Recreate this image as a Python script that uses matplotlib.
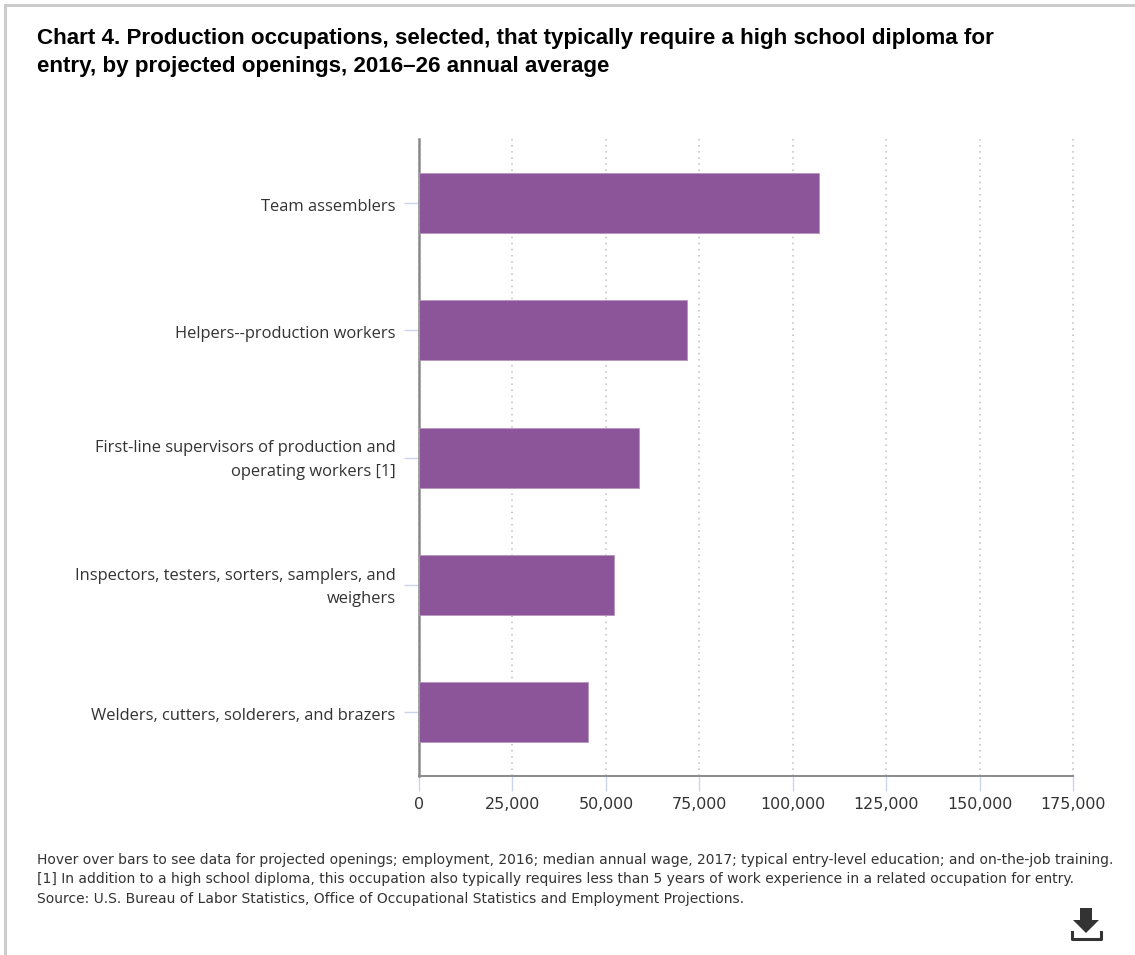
import matplotlib
matplotlib.use('Agg')
import matplotlib.pyplot as plt
from matplotlib.patches import Polygon, Rectangle
from matplotlib.lines import Line2D
from matplotlib.transforms import ScaledTranslation

occupations = ['Team assemblers',
               'Helpers--production workers',
               'First-line supervisors of production and\noperating workers [1]',
               'Inspectors, testers, sorters, samplers, and\nweighers',
               'Welders, cutters, solderers, and brazers']
openings = [107000, 71700, 58900, 52200, 45200]
xticks = [0, 25000, 50000, 75000, 100000, 125000, 150000, 175000]
title = ('Chart 4. Production occupations, selected, that typically require a high school diploma for\n'
         'entry, by projected openings, 2016\u201326 annual average')
footnotes = ['Hover over bars to see data for projected openings; employment, 2016; median annual wage, 2017; typical entry-level education; and on-the-job training.',
             '[1] In addition to a high school diploma, this occupation also typically requires less than 5 years of work experience in a related occupation for entry.',
             'Source: U.S. Bureau of Labor Statistics, Office of Occupational Statistics and Employment Projections.']

W, H = 1135, 955
fig = plt.figure(figsize=(W / 100, H / 100), dpi=100)
ax = fig.add_axes([419 / W, 1 - 776 / H, 654 / W, 636.5 / H])

ypos = [i + 0.5 for i in range(len(occupations))]
ax.barh(ypos, openings, height=0.472, color='#8c5499', edgecolor='#b795bf', linewidth=0.6, zorder=3)
ax.set_xlim(0, 175000)
ax.set_ylim(5, 0)

ax.set_xticks(xticks)
ax.set_xticklabels([f'{v:,}' for v in xticks], fontsize=11.4, family='DejaVu Sans', color='#333333')
ax.set_yticks(ypos)
ax.set_yticklabels(occupations, fontsize=11.9, family='Open Sans', color='#333333', linespacing=1.63)
ax.tick_params(axis='x', length=10.8, width=1, color='#ccd6eb', pad=4)
ax.tick_params(axis='y', length=10.8, width=1, color='#ccd6eb', pad=6)

# nudge the labels so one and two line ones sit where they do in the original
for lab in ax.get_yticklabels():
    dy = 3.5 if '\n' in lab.get_text() else -1.5
    lab.set_transform(lab.get_transform() + ScaledTranslation(0, dy / 100, fig.dpi_scale_trans))

ax.grid(axis='x', linestyle=(0, (1, 3)), color='#bdbdbd', linewidth=1.1, zorder=0, clip_on=False)
ax.set_axisbelow(True)
for s in ['top', 'right']:
    ax.spines[s].set_visible(False)
ax.spines['left'].set_color('#8a8a8a')
ax.spines['left'].set_linewidth(1.8)
ax.spines['bottom'].set_color('#8a8a8a')
ax.spines['bottom'].set_linewidth(1.4)

fig.text(37 / W, 1 - 28 / H, title, fontsize=16.08, fontweight='bold', family='Liberation Sans',
         color='black', va='top', linespacing=1.45)

for i, line in enumerate(footnotes):
    fig.text(37 / W, 1 - (860 + i * 19.3) / H, line, fontsize=9.97, family='DejaVu Sans',
             color='#333333', va='center')

# page border, top and left only
fig.add_artist(Rectangle((4 / W, 1 - 6.7 / H), (W - 4) / W, 2.7 / H, transform=fig.transFigure, color='#cccccc', lw=0))
fig.add_artist(Rectangle((4 / W, 0), 2.7 / W, 1 - 4 / H, transform=fig.transFigure, color='#cccccc', lw=0))

# download icon
arrow = [(1080, 908), (1092, 908), (1092, 920), (1099, 920), (1086, 933), (1073, 920), (1080, 920)]
fig.add_artist(Polygon([(x / W, 1 - y / H) for x, y in arrow], closed=True, transform=fig.transFigure,
                       color='#333333', lw=0))
fig.add_artist(Line2D([1071.5 / W, 1071.5 / W, 1100.5 / W, 1100.5 / W],
                      [1 - 932 / H, 1 - 938.5 / H, 1 - 938.5 / H, 1 - 932 / H],
                      transform=fig.transFigure, color='#333333', lw=2.2, solid_joinstyle='round'))

fig.savefig('out.png', dpi=100)
